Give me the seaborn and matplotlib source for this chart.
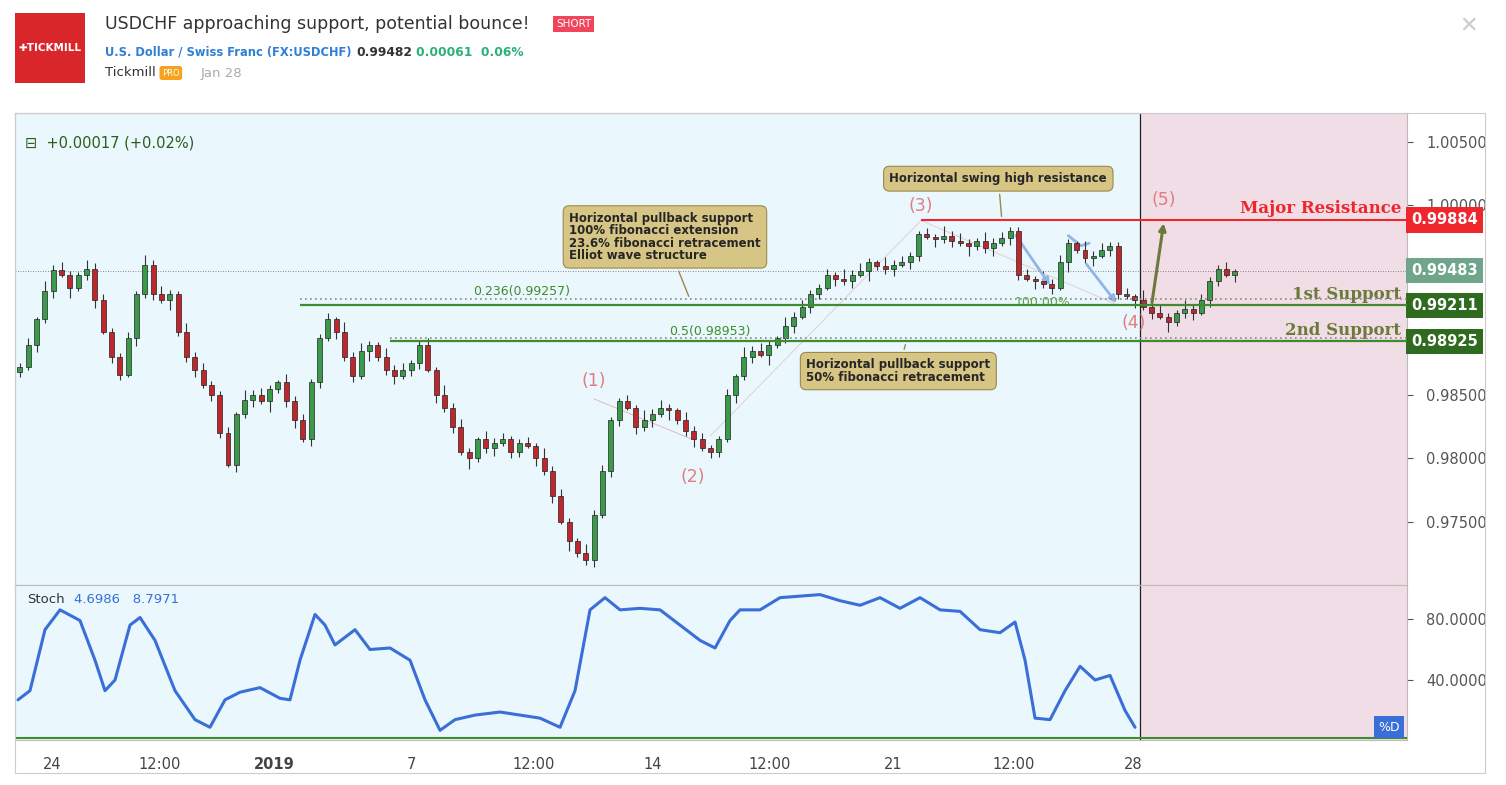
import numpy as np
import pandas as pd
import seaborn as sns
import matplotlib
matplotlib.use("Agg")
import matplotlib.pyplot as plt
from matplotlib.patches import Rectangle

closes = [0.9872,0.9890,0.9910,0.9932,0.9949,0.9945,0.9935,0.9945,0.9950,0.9925,0.9900,0.9880,0.9866,0.9895,0.9930,
          0.9953,0.9930,0.9925,0.9930,0.9900,0.9880,0.9870,0.9858,0.9850,0.9820,0.9795,
          0.9835,0.9846,0.9850,0.9845,0.9855,0.9860,0.9845,0.9830,0.9815,0.9860,0.9895,0.9910,
          0.9900,0.9880,0.9865,0.9885,0.9890,0.9880,0.9870,0.9865,0.9870,0.9875,0.9890,0.9870,
          0.9850,0.9840,0.9825,0.9805,0.9800,0.9815,0.9808,0.9812,0.9815,0.9805,0.9812,0.9810,0.9800,0.9790,
          0.9770,0.9750,0.9735,0.9725,0.9720,0.9755,0.9790,0.9830,0.9845,
          0.9840,0.9825,0.9830,0.9835,0.9840,0.9838,0.9830,0.9822,0.9815,0.9808,0.9805,0.9815,
          0.9850,0.9865,0.9880,0.9885,0.9882,0.9890,0.9895,0.9905,0.9912,0.9920,0.9930,0.9935,0.9945,0.9942,
          0.9940,0.9945,0.9948,0.9955,0.9952,0.9950,0.9953,0.9955,0.9960,
          0.9977,0.9975,0.9973,0.9976,0.9972,0.9970,0.9968,0.9972,0.9966,0.9970,0.9974,0.9980,
          0.9945,0.9942,0.9940,0.9938,0.9935,0.9955,0.9970,0.9965,0.9958,0.9960,0.9965,0.9968,
          0.9930,0.9928,0.9925,0.9920,0.9915,0.9912,0.9908,0.9915,0.9918,0.9915,0.9925,0.9940,0.9950,0.9945,0.9948]
first_open = 0.9868
wick_up_pips = [3,5,2,8,4,6,3,2,7,4,5,3]
wick_dn_pips = [4,2,6,3,5,2,8,3,4,6,2,5]

# stochastic %K, read at chart pixel columns
stoch_px = [18,30,45,60,80,95,105,115,130,140,155,175,195,210,225,240,260,280,290,300,315,325,335,355,370,390,410,425,440,455,
            475,500,520,540,560,575,590,605,620,640,660,680,700,715,730,740,760,780,800,820,840,860,880,900,920,940,960,980,
            1000,1015,1025,1035,1050,1065,1080,1095,1110,1125,1135]
stoch_k = [27,33,73,86,79,53,33,40,76,81,66,33,14,9,27,32,35,28,27,53,83,76,63,73,60,61,53,27,7,14,
           17,19,17,15,9,33,86,94,86,87,86,76,66,61,79,86,86,94,95,96,92,89,94,87,94,86,85,73,
           71,78,53,15,14,33,49,40,43,20,9]

xtick_pos = [3.85,16.8,30.6,47,61.7,76,90.1,104.9,119.4,133.8]
xtick_lab = ["24","12:00","2019","7","12:00","14","12:00","21","12:00","28"]
price_ticks = [1.005,1.000,0.985,0.980,0.975]

n = len(closes)
opens = [first_open] + closes[:-1]
wu = np.tile(wick_up_pips, n // 12 + 1)[:n] * 0.0001
wd = np.tile(wick_dn_pips, n // 12 + 1)[:n] * 0.0001
df = pd.DataFrame({"i": np.arange(n), "o": opens, "c": closes})
df["h"] = df[["o", "c"]].max(axis=1) + wu
df["l"] = df[["o", "c"]].min(axis=1) - wd
st = pd.DataFrame({"x": (np.array(stoch_px) - 20) / 8.32, "k": stoch_k})

sns.set_style("white")
W, H = 1506, 785
fig = plt.figure(figsize=(15.06, 7.85), dpi=100)
def fx(px): return px / W
def fy(py): return 1 - py / H
ax = fig.add_axes([fx(15), fy(585), fx(1392), (585 - 113) / H])
ax2 = fig.add_axes([fx(15), fy(740), fx(1392), (740 - 585) / H], sharex=ax)
bg = "#eaf7fc"
pink = "#f1dde5"
xl = (-0.6, 166.7)
for a in (ax, ax2):
    a.set_facecolor(bg)
    a.axvspan(134.6, xl[1], color=pink, zorder=0)
    a.axvline(134.6, color="#222", lw=0.9)
    for s in a.spines.values():
        s.set_color("#bbb"); s.set_linewidth(0.8)
ax.set_xlim(*xl)
ax.set_ylim(0.9700, 1.00729)
ax2.set_ylim(0.66, 102.3)

up = df[df.c >= df.o]; dn = df[df.c < df.o]
ax.vlines(df.i, df.l, df.h, color="#333", lw=0.8, zorder=3)
ax.bar(up.i, up.c - up.o, bottom=up.o, width=0.6, color="#3a9a4a", edgecolor="#222", lw=0.5, zorder=4)
ax.bar(dn.i, dn.o - dn.c, bottom=dn.c, width=0.6, color="#c0272d", edgecolor="#222", lw=0.5, zorder=4)

ax.hlines(0.99884, 108.3, xl[1], color="#f0262d", lw=1.5, zorder=5)
ax.hlines(0.99211, 33.6, xl[1], color="#3e8c2e", lw=1.6, zorder=5)
ax.hlines(0.99257, 33.6, xl[1], color="#888", lw=1.2, ls=(0, (1, 2)), zorder=5)
ax.hlines(0.98925, 44.5, xl[1], color="#3e8c2e", lw=1.6, zorder=5)
ax.hlines(0.98953, 44.5, xl[1], color="#888", lw=1.2, ls=(0, (1, 2)), zorder=5)
ax.axhline(0.99483, color="#666", lw=0.6, ls=(0, (1, 2)), zorder=2)
ax.text(54.5, 0.9927, "0.236(0.99257)", color="#3e8c2e", fontsize=9, ha="left", va="bottom")
ax.text(78, 0.98955, "0.5(0.98953)", color="#3e8c2e", fontsize=9, ha="left", va="bottom")
ax.text(119.5, 0.9918, "100.00%", color="#5aa44a", fontsize=9, ha="left", va="bottom")
ax.text(166, 0.99905, "Major Resistance", color="#f0262d", fontsize=12, fontweight="bold", family="DejaVu Serif", ha="right", va="bottom")
ax.text(166, 0.9923, "1st Support", color="#6b7a3a", fontsize=12, fontweight="bold", family="DejaVu Serif", ha="right", va="bottom")
ax.text(166, 0.98945, "2nd Support", color="#6b7a3a", fontsize=12, fontweight="bold", family="DejaVu Serif", ha="right", va="bottom")

wc = "#e07e84"
for xi, yv, t in [(69, 0.98612, "(1)"), (80.8, 0.97854, "(2)"), (108.3, 0.99998, "(3)"), (133.8, 0.9907, "(4)"), (137.5, 1.00042, "(5)")]:
    ax.text(xi, yv, t, color=wc, fontsize=12.5, ha="center", va="center")
ax.plot([69, 80.8], [0.9847, 0.9815], color=wc, lw=0.6, alpha=0.6)
ax.plot([83, 108.3], [0.9818, 0.9988], color=wc, lw=0.6, alpha=0.4)
ax.plot([108.3, 132], [0.9988, 0.9921], color=wc, lw=0.6, alpha=0.4)
ax.annotate("", xy=(137.5, 0.9988), xytext=(136, 0.9921), arrowprops=dict(arrowstyle="-|>", color="#6b7a3a", lw=2.2))
bl = "#8fb5e8"
ax.annotate("", xy=(124, 0.9935), xytext=(119.5, 0.9978), arrowprops=dict(arrowstyle="-|>", color=bl, lw=2))
ax.annotate("", xy=(132, 0.9921), xytext=(128, 0.9955), arrowprops=dict(arrowstyle="-|>", color=bl, lw=2))
ax.plot([126, 127.5, 128.5], [0.9976, 0.9968, 0.9970], color=bl, lw=2)

box = dict(boxstyle="round,pad=0.5", fc="#d6c585", ec="#9a8a4a", lw=0.8)
ax.annotate("Horizontal pullback support\n100% fibonacci extension\n23.6% fibonacci retracement\nElliot wave structure",
            xy=(80.5, 0.9926), xytext=(66, 0.9975), fontsize=8.5, fontweight="bold", bbox=box, va="center", ha="left",
            arrowprops=dict(arrowstyle="-", color="#9a8a4a"), linespacing=0.95)
ax.annotate("Horizontal swing high resistance", xy=(118, 0.9989), xytext=(104.5, 1.0021), fontsize=8.5, fontweight="bold",
            bbox=box, va="center", ha="left", arrowprops=dict(arrowstyle="-", color="#9a8a4a"))
ax.annotate("Horizontal pullback support\n50% fibonacci retracement", xy=(106.5, 0.9892), xytext=(94.5, 0.9869), fontsize=8.5,
            fontweight="bold", bbox=box, va="center", ha="left", arrowprops=dict(arrowstyle="-", color="#9a8a4a"), linespacing=0.95)
ax.text(0.6, 1.0049, "⊟  +0.00017 (+0.02%)", color="#2b5d1e", fontsize=10.5, va="center")

sns.lineplot(data=st, x="x", y="k", ax=ax2, color="#3a6fd8", lw=2.2)
ax2.axhline(2, color="#3e8c2e", lw=1.5)
ax2.text(0.9, 93, "Stoch", fontsize=9.5, color="#333", va="center")
ax2.text(6.5, 93, "4.6986   8.7971", fontsize=9.5, color="#3a6fd8", va="center")
ax2.text(165.8, 9, "%D", fontsize=9, color="white", ha="right", va="center",
         bbox=dict(boxstyle="square,pad=0.35", fc="#3a6fd8", ec="none"))

for a in (ax, ax2):
    a.yaxis.tick_right(); a.tick_params(axis="y", length=4, labelsize=10.5, colors="#555", pad=10)
ax.set_yticks(price_ticks); ax.set_yticklabels([f"{v:.5f}" for v in price_ticks])
ax2.set_yticks([40, 80]); ax2.set_yticklabels(["40.0000", "80.0000"])
for v, c in [(0.99884, "#f0262d"), (0.99483, "#6fa58a"), (0.99211, "#2f6b1f"), (0.98925, "#2f6b1f")]:
    ax.text(1.003, v, f"{v:.5f}", transform=ax.get_yaxis_transform(), color="white", fontsize=10.5, fontweight="bold",
            va="center", ha="left", bbox=dict(boxstyle="square,pad=0.35", fc=c, ec="none"), clip_on=False)
plt.setp(ax.get_xticklabels(), visible=False)
ax.tick_params(axis="x", length=0)
ax2.set_xticks(xtick_pos); ax2.set_xticklabels(xtick_lab)
ax2.tick_params(axis="x", length=0, labelsize=10.5, colors="#444", pad=12)
ax2.get_xticklabels()[2].set_fontweight("bold")
ax2.set_xlabel(""); ax2.set_ylabel("")

fig.patches.append(Rectangle((fx(15), fy(773)), fx(1470), (773 - 113) / H, transform=fig.transFigure, fill=False, ec="#ccc", lw=0.8))
fig.patches.append(Rectangle((fx(15), fy(83)), fx(70), 70 / H, transform=fig.transFigure, fc="#d9262b", ec="none"))
fig.text(fx(50), fy(48), "✚TICKMILL", color="white", fontsize=7.5, fontweight="bold", ha="center", va="center")
fig.text(fx(105), fy(24), "USDCHF approaching support, potential bounce!", fontsize=12.5, color="#333", va="center")
fig.text(fx(556), fy(24), "SHORT", fontsize=7.5, color="white", va="center",
         bbox=dict(boxstyle="square,pad=0.3", fc="#f0455a", ec="none"))
fig.text(fx(105), fy(52), "U.S. Dollar / Swiss Franc (FX:USDCHF)", fontsize=8.3, color="#2f7fd6", fontweight="bold", va="center")
fig.text(fx(356), fy(52), "0.99482", fontsize=8.8, color="#333", fontweight="bold", va="center")
fig.text(fx(416), fy(52), "0.00061  0.06%", fontsize=8.8, color="#2bb07a", fontweight="bold", va="center")
fig.text(fx(105), fy(73), "Tickmill", fontsize=9.5, color="#333", va="center")
fig.text(fx(162), fy(73), "PRO", fontsize=6, color="white", va="center", bbox=dict(boxstyle="round,pad=0.3", fc="#f7a21b", ec="none"))
fig.text(fx(201), fy(73), "Jan 28", fontsize=9.5, color="#aaa", va="center")
fig.text(fx(1468), fy(26), "✕", fontsize=16, color="#ccc", ha="center", va="center")
fig.savefig("out.png", dpi=100, facecolor="white")
